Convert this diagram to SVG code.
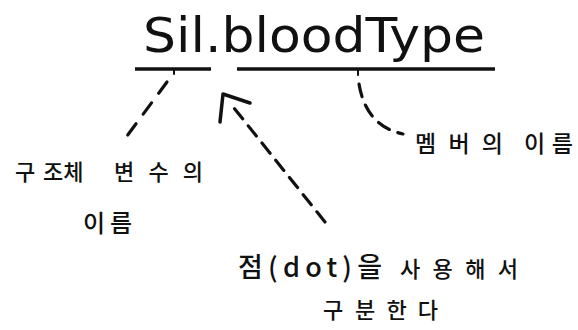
<svg xmlns="http://www.w3.org/2000/svg" width="578" height="330" viewBox="0 0 578 330">
<style>
  .t{font-family:"Noto Sans CJK KR","Noto Sans",sans-serif;fill:#111;font-weight:500}
  .title{font-family:"DejaVu Sans","Liberation Sans",sans-serif;fill:#111}
  .u{stroke:#111;stroke-width:3.5;fill:none;stroke-linecap:butt}
  .d{stroke:#111;stroke-width:3.2;fill:none;stroke-dasharray:13 9;stroke-linecap:round}
  .s{stroke:#111;stroke-width:3.5;fill:none;stroke-linecap:round;stroke-linejoin:round}
</style>
<rect width="578" height="330" fill="#fff"/>
<g id="title">
  <text class="title" x="143" y="52" font-size="48" textLength="342" lengthAdjust="spacingAndGlyphs">Sil.bloodType</text>
  <line class="u" x1="135" y1="69" x2="211" y2="69"/>
  <line class="u" x1="237" y1="69" x2="495" y2="69"/>
  <line class="s" x1="174" y1="70" x2="174" y2="74" style="stroke-width:2"/>
  <line class="s" x1="358" y1="70" x2="358" y2="75" style="stroke-width:2"/>
</g>
<g id="connectors">
  <line class="d" x1="167" y1="82" x2="127" y2="136" style="stroke-dasharray:14 12"/>
  <path class="d" d="M359,84 Q366,126 403,134"/>
  <line class="d" x1="325" y1="222" x2="230" y2="103"/>
  <path class="s" d="M220,122 L223,94 L250,103"/>
</g>
<g id="struct-name">
  <text class="t" x="15" y="180" font-size="22">구</text>
  <text class="t" x="43" y="180" font-size="22">조체</text>
  <text class="t" x="114" y="180" font-size="22" textLength="89" lengthAdjust="spacing">변수의</text>
  <text class="t" x="83" y="232" font-size="24" textLength="49" lengthAdjust="spacing">이름</text>
</g>
<g id="member-name">
  <text class="t" x="415" y="152" font-size="23" textLength="88" lengthAdjust="spacing">멤버의</text>
  <text class="t" x="524" y="152" font-size="23" textLength="49" lengthAdjust="spacing">이름</text>
</g>
<g id="dot-label">
  <text class="t" x="238" y="277" font-size="27" textLength="144" lengthAdjust="spacing">점(dot)을</text>
  <text class="t" x="400" y="277" font-size="22" textLength="118" lengthAdjust="spacing">사용해서</text>
  <text class="t" x="323" y="318" font-size="22">구</text>
  <text class="t" x="355" y="318" font-size="22" textLength="83" lengthAdjust="spacing">분한다</text>
</g>
</svg>
